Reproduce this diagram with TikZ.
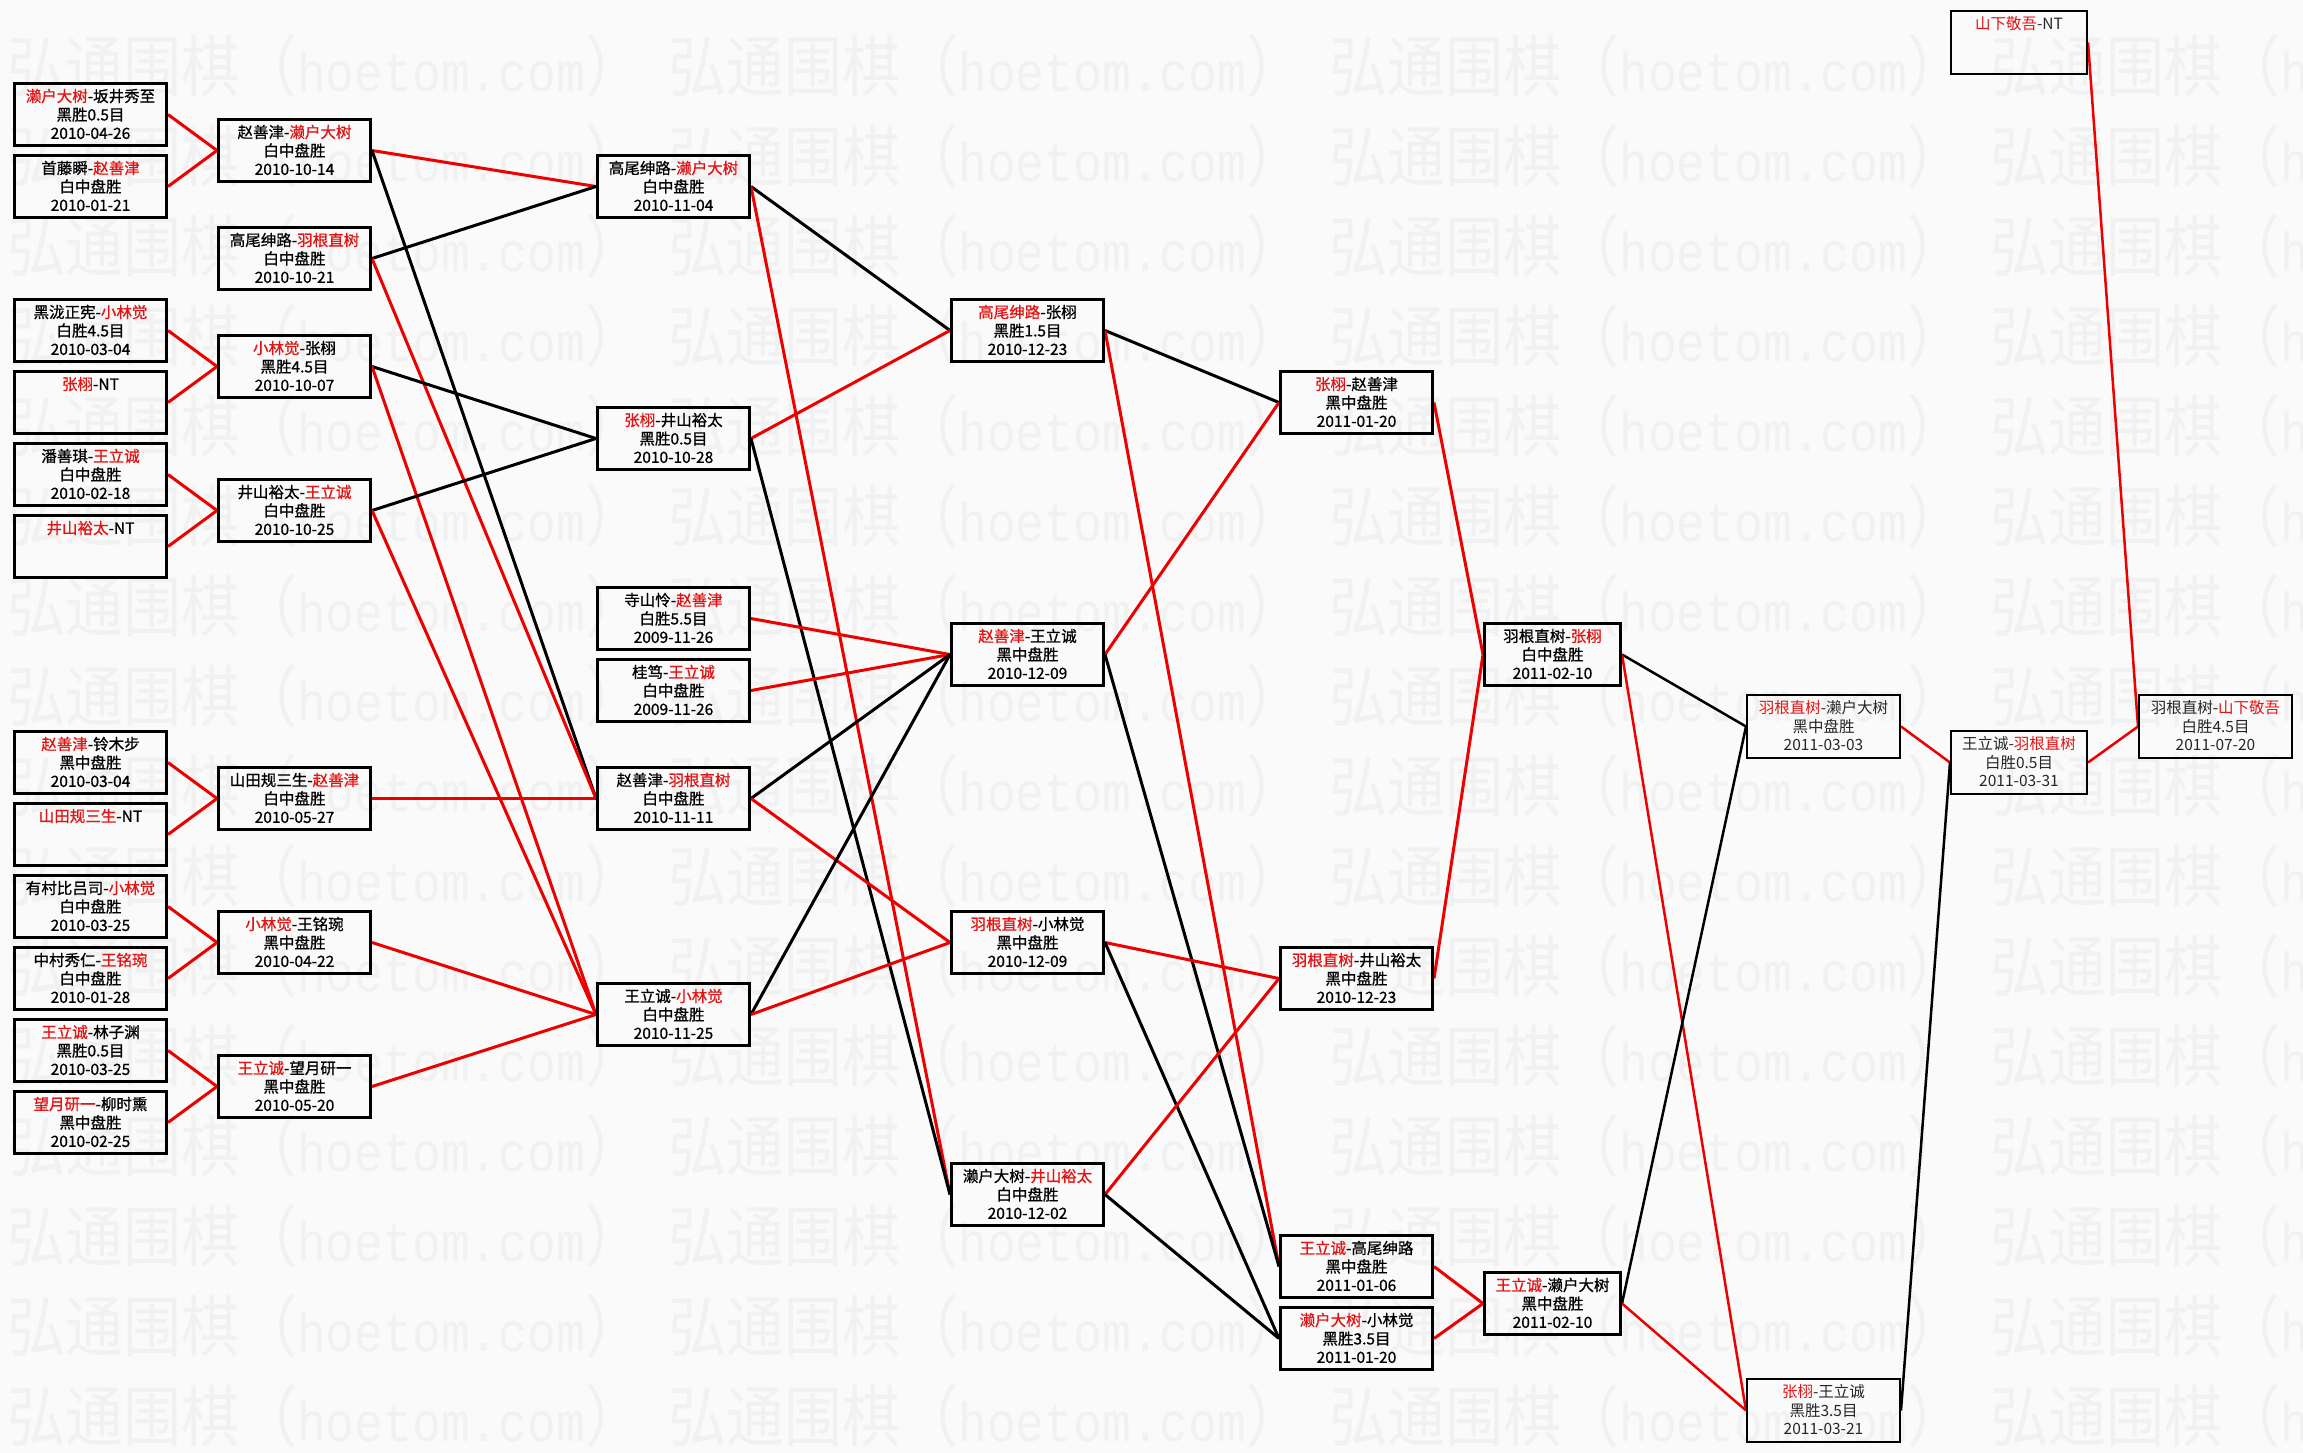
\documentclass[tikz,border=0pt]{standalone}
\usepackage{fontspec}
\newfontfamily\cjk[RawFeature={embolden=0.8}]{Noto Sans CJK SC}
\newfontfamily\cjkl{Noto Sans CJK SC}
\newfontfamily\wmmono{Liberation Mono}
\definecolor{bgc}{RGB}{250,250,250}
\definecolor{wmc}{RGB}{241,241,241}
\definecolor{lred}{RGB}{236,0,0}
\definecolor{tred}{RGB}{228,20,20}
\newcommand\rn[1]{\textcolor{tred}{#1}}
\newcommand\stt{\rule[-3.35pt]{0pt}{18.5pt}}
\newcommand\bxt[3]{\stt#1\\\stt#2\\\stt#3}
\pgfdeclarelayer{wm}
\pgfdeclarelayer{lines}
\pgfsetlayers{wm,lines,main}
\begin{document}
\begin{tikzpicture}[x=1pt,y=-1pt,
  gbox/.style={draw=black, line width=3pt, minimum width=152pt, minimum height=62pt,
    inner sep=0pt, align=center, anchor=north west, text=black,
    font=\cjk\fontsize{15.5}{18.5}\selectfont},
  fbox/.style={gbox, minimum width=136pt},
  lbox/.style={gbox, line width=2pt, minimum width=153pt, minimum height=63pt, text=black!85,
    font=\cjkl\fontsize{15.5}{18.5}\selectfont},
  hbox/.style={lbox, minimum width=136pt},
  win/.style={draw=lred, line width=3pt},
  lose/.style={draw=black, line width=3pt},
  winthin/.style={draw=lred, line width=2.5pt},
  losethin/.style={draw=black, line width=2.5pt},
  wmark/.style={anchor=west, inner sep=0pt, text=wmc, font=\cjkl\fontsize{58}{58}\selectfont}]
\useasboundingbox (0,0) rectangle (2303,1453);

% background and watermark
\begin{pgfonlayer}{wm}
\fill[bgc] (0,0) rectangle (2303,1453);
\begin{scope}
\clip (0,0) rectangle (2303,1453);
\foreach \r in {0,...,15} {
  \foreach \c in {0,...,3} {
    \node[wmark] (wm-\r-\c) at (7+661*\c, 66+90*\r)
      {\scalebox{1}[1.15]{弘通围棋（{\wmmono\fontsize{48}{48}\selectfont hoetom.com}）}};
  }
}
\end{scope}
\end{pgfonlayer}

% column A
\node[gbox] (A1) at (13,82) {\bxt{\rn{濑户大树}-坂井秀至}{黑胜0.5目}{2010-04-26}};
\node[gbox] (A2) at (13,154) {\bxt{首藤瞬-\rn{赵善津}}{白中盘胜}{2010-01-21}};
\node[gbox] (A3) at (13,298) {\bxt{黑泷正宪-\rn{小林觉}}{白胜4.5目}{2010-03-04}};
\node[gbox] (A4) at (13,370) {\bxt{\rn{张栩}-NT}{}{}};
\node[gbox] (A5) at (13,442) {\bxt{潘善琪-\rn{王立诚}}{白中盘胜}{2010-02-18}};
\node[gbox] (A6) at (13,514) {\bxt{\rn{井山裕太}-NT}{}{}};
\node[gbox] (A7) at (13,730) {\bxt{\rn{赵善津}-铃木步}{黑中盘胜}{2010-03-04}};
\node[gbox] (A8) at (13,802) {\bxt{\rn{山田规三生}-NT}{}{}};
\node[gbox] (A9) at (13,874) {\bxt{有村比吕司-\rn{小林觉}}{白中盘胜}{2010-03-25}};
\node[gbox] (A10) at (13,946) {\bxt{中村秀仁-\rn{王铭琬}}{白中盘胜}{2010-01-28}};
\node[gbox] (A11) at (13,1018) {\bxt{\rn{王立诚}-林子渊}{黑胜0.5目}{2010-03-25}};
\node[gbox] (A12) at (13,1090) {\bxt{\rn{望月研一}-柳时熏}{黑中盘胜}{2010-02-25}};

% column B
\node[gbox] (B1) at (217,118) {\bxt{赵善津-\rn{濑户大树}}{白中盘胜}{2010-10-14}};
\node[gbox] (B2) at (217,226) {\bxt{高尾绅路-\rn{羽根直树}}{白中盘胜}{2010-10-21}};
\node[gbox] (B3) at (217,334) {\bxt{\rn{小林觉}-张栩}{黑胜4.5目}{2010-10-07}};
\node[gbox] (B4) at (217,478) {\bxt{井山裕太-\rn{王立诚}}{白中盘胜}{2010-10-25}};
\node[gbox] (B5) at (217,766) {\bxt{山田规三生-\rn{赵善津}}{白中盘胜}{2010-05-27}};
\node[gbox] (B6) at (217,910) {\bxt{\rn{小林觉}-王铭琬}{黑中盘胜}{2010-04-22}};
\node[gbox] (B7) at (217,1054) {\bxt{\rn{王立诚}-望月研一}{黑中盘胜}{2010-05-20}};

% column C
\node[gbox] (C1) at (596,154) {\bxt{高尾绅路-\rn{濑户大树}}{白中盘胜}{2010-11-04}};
\node[gbox] (C2) at (596,406) {\bxt{\rn{张栩}-井山裕太}{黑胜0.5目}{2010-10-28}};
\node[gbox] (C3) at (596,586) {\bxt{寺山怜-\rn{赵善津}}{白胜5.5目}{2009-11-26}};
\node[gbox] (C4) at (596,658) {\bxt{桂笃-\rn{王立诚}}{白中盘胜}{2009-11-26}};
\node[gbox] (C5) at (596,766) {\bxt{赵善津-\rn{羽根直树}}{白中盘胜}{2010-11-11}};
\node[gbox] (C6) at (596,982) {\bxt{王立诚-\rn{小林觉}}{白中盘胜}{2010-11-25}};

% column D
\node[gbox] (D1) at (950,298) {\bxt{\rn{高尾绅路}-张栩}{黑胜1.5目}{2010-12-23}};
\node[gbox] (D2) at (950,622) {\bxt{\rn{赵善津}-王立诚}{黑中盘胜}{2010-12-09}};
\node[gbox] (D3) at (950,910) {\bxt{\rn{羽根直树}-小林觉}{黑中盘胜}{2010-12-09}};
\node[gbox] (D4) at (950,1162) {\bxt{濑户大树-\rn{井山裕太}}{白中盘胜}{2010-12-02}};

% column E
\node[gbox] (E1) at (1279,370) {\bxt{\rn{张栩}-赵善津}{黑中盘胜}{2011-01-20}};
\node[gbox] (E2) at (1279,946) {\bxt{\rn{羽根直树}-井山裕太}{黑中盘胜}{2010-12-23}};
\node[gbox] (E3) at (1279,1234) {\bxt{\rn{王立诚}-高尾绅路}{黑中盘胜}{2011-01-06}};
\node[gbox] (E4) at (1279,1306) {\bxt{\rn{濑户大树}-小林觉}{黑胜3.5目}{2011-01-20}};

% column F
\node[fbox] (F1) at (1483,622) {\bxt{羽根直树-\rn{张栩}}{白中盘胜}{2011-02-10}};
\node[fbox] (F2) at (1483,1271) {\bxt{\rn{王立诚}-濑户大树}{黑中盘胜}{2011-02-10}};

% columns G, H, I
\node[lbox] (G1) at (1746,694) {\bxt{\rn{羽根直树}-濑户大树}{黑中盘胜}{2011-03-03}};
\node[lbox] (G2) at (1746,1378) {\bxt{\rn{张栩}-王立诚}{黑胜3.5目}{2011-03-21}};
\node[hbox] (H0) at (1950,10) {\bxt{\rn{山下敬吾}-NT}{}{}};
\node[hbox] (H1) at (1950,730) {\bxt{王立诚-\rn{羽根直树}}{白胜0.5目}{2011-03-31}};
\node[lbox] (I1) at (2138,694) {\bxt{羽根直树-\rn{山下敬吾}}{白胜4.5目}{2011-07-20}};

% connectors
\begin{pgfonlayer}{lines}
\draw[win] (A1.east) -- (B1.west);
\draw[win] (A2.east) -- (B1.west);
\draw[win] (A3.east) -- (B3.west);
\draw[win] (A4.east) -- (B3.west);
\draw[win] (A5.east) -- (B4.west);
\draw[win] (A6.east) -- (B4.west);
\draw[win] (A7.east) -- (B5.west);
\draw[win] (A8.east) -- (B5.west);
\draw[win] (A9.east) -- (B6.west);
\draw[win] (A10.east) -- (B6.west);
\draw[win] (A11.east) -- (B7.west);
\draw[win] (A12.east) -- (B7.west);

\draw[win] (B1.east) -- (C1.west);
\draw[lose] (B1.east) -- (C5.west);
\draw[lose] (B2.east) -- (C1.west);
\draw[win] (B2.east) -- (C5.west);
\draw[lose] (B3.east) -- (C2.west);
\draw[win] (B3.east) -- (C6.west);
\draw[lose] (B4.east) -- (C2.west);
\draw[win] (B4.east) -- (C6.west);
\draw[win] (B5.east) -- (C5.west);
\draw[win] (B6.east) -- (C6.west);
\draw[win] (B7.east) -- (C6.west);

\draw[lose] (C1.east) -- (D1.west);
\draw[win] (C1.east) -- (D4.west);
\draw[win] (C2.east) -- (D1.west);
\draw[lose] (C2.east) -- (D4.west);
\draw[win] (C3.east) -- (D2.west);
\draw[win] (C4.east) -- (D2.west);
\draw[lose] (C5.east) -- (D2.west);
\draw[win] (C5.east) -- (D3.west);
\draw[lose] (C6.east) -- (D2.west);
\draw[win] (C6.east) -- (D3.west);

\draw[lose] (D1.east) -- (E1.west);
\draw[win] (D1.east) -- (E3.west);
\draw[win] (D2.east) -- (E1.west);
\draw[lose] (D2.east) -- (E3.west);
\draw[win] (D3.east) -- (E2.west);
\draw[lose] (D3.east) -- (E4.west);
\draw[win] (D4.east) -- (E2.west);
\draw[lose] (D4.east) -- (E4.west);

\draw[win] (E1.east) -- (F1.west);
\draw[win] (E2.east) -- (F1.west);
\draw[win] (E3.east) -- (F2.west);
\draw[win] (E4.east) -- (F2.west);

\draw[losethin] (F1.east) -- (G1.west);
\draw[winthin] (F1.east) -- (G2.west);
\draw[losethin] (F2.east) -- (G1.west);
\draw[winthin] (F2.east) -- (G2.west);

\draw[winthin] (G1.east) -- (H1.west);
\draw[losethin] (G2.east) -- (H1.west);
\draw[winthin] (H1.east) -- (I1.west);
\draw[winthin] (H0.east) -- (I1.west);
\end{pgfonlayer}
\end{tikzpicture}
\end{document}
